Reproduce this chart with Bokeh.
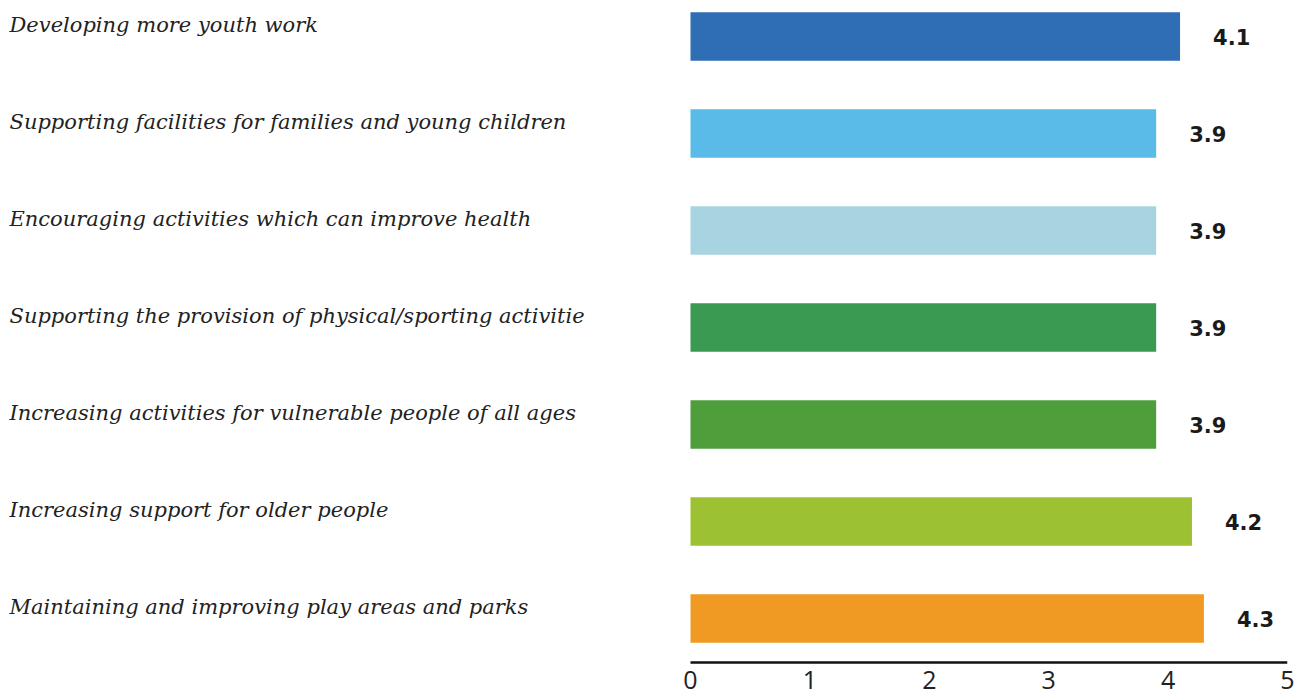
from bokeh.plotting import figure
from bokeh.models import Range1d, ColumnDataSource, FixedTicker
from bokeh.core.properties import value
from bokeh.embed import file_html
from bokeh.resources import INLINE

categories = [
    "Developing more youth work",
    "Supporting facilities for families and young children",
    "Encouraging activities which can improve health",
    "Supporting the provision of physical/sporting activitie",
    "Increasing activities for vulnerable people of all ages",
    "Increasing support for older people",
    "Maintaining and improving play areas and parks",
]
scores = [4.1, 3.9, 3.9, 3.9, 3.9, 4.2, 4.3]
colors = ["#2f6db5", "#5bbbe8", "#a8d3e0", "#3a9a52", "#4e9e3c", "#9cc233", "#f09a23"]
ticks = [0, 1, 2, 3, 4, 5]

idx = list(range(len(categories)))
src = ColumnDataSource(dict(
    y=idx, v=scores, c=colors, cat=categories,
    lab=[f"{s:.1f}" for s in scores],
))

px_per_unit = 597 / 5
x_start = -690 / px_per_unit
y_bottom = (664 - 36) / 97
y_top = -36 / 97

p = figure(width=1300, height=694, output_backend="svg", toolbar_location=None,
           x_range=Range1d(x_start, 5), y_range=Range1d(y_bottom, y_top),
           min_border_left=0, min_border_right=13, min_border_top=0, min_border_bottom=30)
p.outline_line_color = None
p.xgrid.visible = False
p.ygrid.visible = False
p.yaxis.visible = False
p.background_fill_color = "white"

p.hbar(y="y", left=0, right="v", height=0.5, fill_color="c", line_color=None, source=src)

p.text(x=x_start, y="y", text="cat", source=src, x_offset=9, y_offset=-12,
       text_baseline="alphabetic", text_align="left",
       text_font=value("DejaVu Serif"), text_font_style="italic",
       text_font_size="21px", text_color="#222222")

p.text(x="v", y="y", text="lab", source=src, x_offset=33, y_offset=0,
       text_baseline="middle", text_align="left",
       text_font=value("DejaVu Sans"), text_font_style="bold",
       text_font_size="21px", text_color="#1a1a1a")

axis_y = (662 - 36) / 97
p.segment(x0=[ticks[0]], y0=[axis_y], x1=[ticks[-1]], y1=[axis_y], line_color="#111111", line_width=2.5)

xa = p.xaxis[0]
xa.ticker = FixedTicker(ticks=ticks)
xa.axis_line_color = None
xa.major_tick_line_color = None
xa.minor_tick_line_color = None
xa.major_label_standoff = 0
xa.major_label_text_font = "Open Sans"
xa.major_label_text_font_size = "25px"
xa.major_label_text_color = "#222222"

open("out.html", "w").write(file_html(p, INLINE))
